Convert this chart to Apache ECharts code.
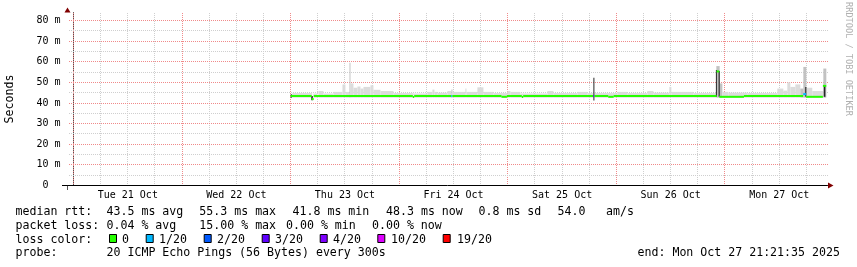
<!DOCTYPE html>
<html><head><meta charset="utf-8">
<script src="https://cdn.jsdelivr.net/npm/echarts@6/dist/echarts.min.js"></script>
<style>html,body{margin:0;padding:0;background:#fff}#c{width:857px;height:267px}</style>
</head><body><div id="c"></div>
<script>
// hours are counted from Tue 21 Oct 00:00
const dayLabels = ['Tue 21 Oct','Wed 22 Oct','Thu 23 Oct','Fri 24 Oct','Sat 25 Oct','Sun 26 Oct','Mon 27 Oct'];
const dayLabelHours = [12, 36, 60, 84, 108, 132, 156];
const yTickValues = [0, 10, 20, 30, 40, 50, 60, 70, 80];

// median rtt: [startHour, endHour, ms, lossLevel]
const medianRtt = [
  [48.0, 52.65, 43.4, 0], [52.65, 53.1, 41.9, 0], [53.1, 75.0, 43.4, 0], [75.0, 75.3, 42.9, 0],
  [75.3, 83.5, 43.4, 0], [83.5, 83.75, 43.4, 1], [83.75, 94.6, 43.4, 0], [94.6, 95.8, 43.0, 0],
  [95.8, 99.1, 43.4, 0], [99.1, 99.4, 42.9, 0], [99.4, 114.9, 43.4, 0], [114.9, 115.15, 43.4, 3],
  [115.15, 118.2, 43.4, 0], [118.2, 119.4, 43.0, 0], [119.4, 142.15, 43.4, 0], [142.15, 142.75, 55.3, 0],
  [142.75, 148.2, 43.0, 0], [148.2, 161.3, 43.4, 0], [161.3, 161.95, 44.3, 1], [161.95, 165.65, 43.0, 0],
  [165.65, 166.4, 48.3, 0]
];

// ping spread (smoke): [startHour, endHour, lowMs, highMs, density]
const smokeRange = [
  [48.33, 52.75, 42.6, 44.8, 1], [53.04, 53.92, 42.6, 44.6, 1], [54.14, 55.25, 42.6, 45.8, 1],
  [55.25, 57.46, 42.6, 44.6, 1], [57.46, 59.45, 42.6, 45.4, 1], [59.45, 60.11, 42.6, 49.0, 1],
  [60.11, 61.0, 42.6, 45.4, 1], [61.0, 61.22, 42.6, 59.5, 2], [61.22, 61.88, 42.6, 49.5, 1],
  [61.88, 62.76, 42.6, 47.4, 1], [62.76, 63.43, 42.6, 48.0, 1], [63.43, 64.09, 42.6, 47.0, 1],
  [64.09, 65.64, 42.6, 47.8, 1], [65.64, 66.3, 42.6, 48.6, 1], [66.3, 67.85, 42.6, 46.4, 1],
  [67.85, 70.72, 42.6, 45.8, 1], [70.72, 75.14, 42.6, 44.8, 1], [75.14, 78.23, 42.6, 44.6, 1],
  [78.23, 79.34, 42.6, 45.4, 1], [79.34, 79.78, 42.6, 46.5, 1], [79.78, 80.44, 42.6, 45.4, 1],
  [80.44, 82.65, 42.6, 45.0, 1], [82.65, 83.54, 42.6, 45.8, 1], [83.54, 83.76, 42.6, 46.5, 2],
  [83.76, 86.63, 42.6, 45.4, 1], [86.63, 86.85, 42.6, 47.0, 1], [86.85, 89.28, 42.6, 45.4, 1],
  [89.28, 90.61, 42.6, 47.6, 1], [90.61, 92.82, 42.6, 45.4, 1], [92.82, 95.91, 42.6, 44.8, 1],
  [95.91, 96.57, 42.6, 45.8, 1], [96.57, 98.78, 42.6, 45.4, 1], [98.78, 104.75, 42.6, 44.6, 1],
  [104.75, 106.08, 42.6, 45.8, 1], [106.08, 111.38, 42.6, 44.8, 1], [111.38, 113.59, 42.6, 45.4, 1],
  [113.59, 114.92, 42.6, 44.8, 1], [115.14, 120.22, 42.6, 44.8, 1], [120.22, 122.43, 42.6, 45.4, 1],
  [122.43, 126.85, 42.6, 44.8, 1], [126.85, 128.18, 42.6, 45.8, 1], [128.18, 131.71, 42.6, 45.0, 1],
  [131.71, 132.15, 42.6, 47.8, 1], [132.15, 137.02, 42.6, 45.4, 1], [137.02, 142.1, 42.6, 44.8, 1],
  [142.1, 142.83, 42.6, 57.9, 2], [142.83, 143.43, 42.6, 49.5, 2], [143.43, 144.75, 42.6, 45.4, 1],
  [144.75, 148.95, 42.6, 45.0, 1], [148.95, 155.58, 42.6, 44.8, 1], [155.58, 156.91, 42.6, 47.0, 1],
  [156.91, 157.79, 42.6, 46.0, 1], [157.79, 158.45, 42.6, 50.0, 1], [158.45, 159.56, 42.6, 47.8, 1],
  [159.56, 160.66, 42.6, 49.0, 1], [160.66, 161.33, 42.6, 47.0, 2], [161.33, 161.99, 42.6, 57.5, 2],
  [161.99, 163.31, 42.6, 47.4, 1], [163.31, 165.75, 42.6, 45.8, 1], [165.75, 166.41, 42.6, 56.7, 2]
];

// dense ping clusters (dark smoke): [startHour, endHour, lowMs, highMs]
const denseSmoke = [
  [48.0, 48.3, 42.6, 44.2], [52.55, 52.9, 41.3, 43.4], [114.92, 115.14, 41.2, 52.2],
  [142.0, 142.2, 43.0, 56.0], [142.6, 142.85, 43.0, 55.5], [161.75, 162.0, 43.0, 47.8],
  [165.85, 166.2, 43.0, 48.6]
];

const lossColors = ['#26ff00', '#00b8ff', '#0059ff', '#5e00ff', '#7e00ff', '#dd00ff', '#ff0000'];
const lossLabels = ['0', '1/20', '2/20', '3/20', '4/20', '10/20', '19/20'];
const rttStats = ['43.5 ms avg', '55.3 ms max', '41.8 ms min', '48.3 ms now', '0.8 ms sd', '54.0', 'am/s'];
const lossStats = ['0.04 % avg', '15.00 % max', '0.00 % min', '0.00 % now'];
const probeText = '20 ICMP Echo Pings (56 Bytes) every 300s';
const endText = 'end: Mon Oct 27 21:21:35 2025';

const MONO = '"DejaVu Sans Mono", monospace';
const smokeColors = {1: '#dcdcdc', 2: '#c2c2c2'};
const MAJOR = '#f08a8a', MINOR = '#cfcfcf';

// grid positions
const gridHours = [];
for (let h = 0; h <= 162; h += 6) gridHours.push([h, h % 24 === 0 ? 1 : 0]);
const gridValues = [];
for (let v = 5; v <= 80; v += 5) gridValues.push([0, v, v % 10 === 0 ? 1 : 0]);

function rectItem(fill) {
  return function (params, api) {
    const p0 = api.coord([api.value(0), api.value(2)]);
    const p1 = api.coord([api.value(1), api.value(3)]);
    return {type: 'rect', shape: {x: p0[0], y: p1[1], width: Math.max(p1[0] - p0[0], 1), height: p0[1] - p1[1]},
      style: {fill: typeof fill === 'function' ? fill(api) : fill}};
  };
}

const graphics = [];
function txt(s, x, y, extra) {
  graphics.push(Object.assign({type: 'text', x: x, y: y, style: {text: s, font: '11.6px ' + MONO, fill: '#000',
    textVerticalAlign: 'middle', verticalAlign: 'middle'}}, extra || {}));
}
// legend rows
txt('median rtt:', 15.5, 211.5);
const rttX = [106.5, 199.3, 292.5, 386, 478.5, 557.5, 606];
rttStats.forEach((s, i) => txt(s, rttX[i], 211.5));
txt('packet loss:', 15.5, 225.5);
const lossX = [106.5, 199.3, 286, 372];
lossStats.forEach((s, i) => txt(s, lossX[i], 225.5));
txt('loss color:', 15.5, 239.5);
const boxX = [109, 145.7, 203.7, 261.7, 319.7, 377.3, 442.7];
const lblX = [122, 159, 217, 275, 333, 391, 457];
lossLabels.forEach((s, i) => {
  graphics.push({type: 'rect', shape: {x: boxX[i] + 0.5, y: 234.5, width: 7, height: 8},
    style: {fill: lossColors[i], stroke: '#000', lineWidth: 1}});
  txt(s, lblX[i], 239.5);
});
txt('probe:', 15.5, 253);
txt(probeText, 106.5, 253);
txt(endText, 637.5, 253);
// axis title & watermark
graphics.push({type: 'text', x: 10, y: 99, rotation: Math.PI / 2,
  style: {text: 'Seconds', font: '11.6px ' + MONO, fill: '#000', textAlign: 'center', align: 'center',
    textVerticalAlign: 'middle', verticalAlign: 'middle'}});
graphics.push({type: 'text', x: 848, y: 59, rotation: -Math.PI / 2,
  style: {text: 'RRDTOOL / TOBI OETIKER', font: '8.6px ' + MONO, fill: '#b0b0b0', textAlign: 'center', align: 'center',
    textVerticalAlign: 'middle', verticalAlign: 'middle'}});
// axis extensions and arrows
graphics.push({type: 'line', shape: {x1: 62, y1: 185.5, x2: 67.5, y2: 185.5}, style: {stroke: '#000', lineWidth: 1}});
graphics.push({type: 'line', shape: {x1: 67.5, y1: 185.5, x2: 67.5, y2: 190}, style: {stroke: '#555', lineWidth: 1}});
graphics.push({type: 'polygon', shape: {points: [[64.5, 12.5], [70.5, 12.5], [67.5, 7.5]]}, style: {fill: '#800000'}});
graphics.push({type: 'polygon', shape: {points: [[828, 182.5], [828, 188.5], [833.5, 185.5]]}, style: {fill: '#800000'}});

const chart = echarts.init(document.getElementById('c'), null, {renderer: 'canvas'});
chart.setOption({
  backgroundColor: '#fff',
  animation: false,
  grid: {left: 67.5, top: 12.5, width: 760, height: 173},
  xAxis: {
    type: 'value', min: -1.33, max: 166.67,
    axisLine: {show: true, lineStyle: {color: '#000', width: 1}},
    axisTick: {show: false}, splitLine: {show: false},
    axisLabel: {customValues: dayLabelHours, margin: 5, color: '#000', fontSize: 10, fontFamily: MONO,
      formatter: v => dayLabels[dayLabelHours.indexOf(Math.round(v))] || ''}
  },
  yAxis: {
    type: 'value', min: 0, max: 83.88, interval: 10,
    axisLine: {show: true, lineStyle: {color: '#555', width: 1}},
    axisTick: {show: false}, splitLine: {show: false},
    axisLabel: {customValues: yTickValues, margin: 7, color: '#000', fontSize: 10, fontFamily: MONO,
      formatter: v => v === 0 ? '0  ' : v + ' m'}
  },
  graphic: graphics,
  series: [
    {type: 'custom', name: 'vgrid', z: 1, silent: true, data: gridHours, encode: {x: 0},
      renderItem: (params, api) => {
        const p = api.coord([api.value(0), 0]);
        const cs = params.coordSys;
        const x = Math.floor(p[0]) + 0.5;
        return {type: 'line', shape: {x1: x, y1: Math.round(cs.y), x2: x, y2: Math.round(cs.y + cs.height) - 1},
          style: {stroke: api.value(1) ? MAJOR : MINOR, lineWidth: 1, lineDash: [1, 1]}};
      }},
    {type: 'custom', name: 'hgrid', z: 1, silent: true, data: gridValues, encode: {x: 0, y: 1},
      renderItem: (params, api) => {
        const p = api.coord([0, api.value(1)]);
        const cs = params.coordSys;
        const y = Math.floor(p[1]) + 0.5;
        return {type: 'line', shape: {x1: Math.round(cs.x) + 1, y1: y, x2: Math.round(cs.x + cs.width), y2: y},
          style: {stroke: api.value(2) ? MAJOR : MINOR, lineWidth: 1, lineDash: [1, 1]}};
      }},
    {type: 'custom', name: 'smoke', z: 3, data: smokeRange, encode: {x: [0, 1], y: [2, 3]},
      renderItem: rectItem(api => smokeColors[api.value(4)])},
    {type: 'custom', name: 'dense', z: 4, data: denseSmoke, encode: {x: [0, 1], y: [2, 3]},
      renderItem: rectItem('#262626')},
    {type: 'custom', name: 'median rtt', z: 5, data: medianRtt, encode: {x: [0, 1], y: 2},
      renderItem: (params, api) => {
        const a = api.coord([api.value(0), api.value(2)]);
        const b = api.coord([api.value(1), api.value(2)]);
        return {type: 'rect', shape: {x: a[0], y: a[1] - 1, width: Math.max(b[0] - a[0], 1), height: 2},
          style: {fill: lossColors[api.value(3)]}};
      }}
  ]
});
</script></body></html>
